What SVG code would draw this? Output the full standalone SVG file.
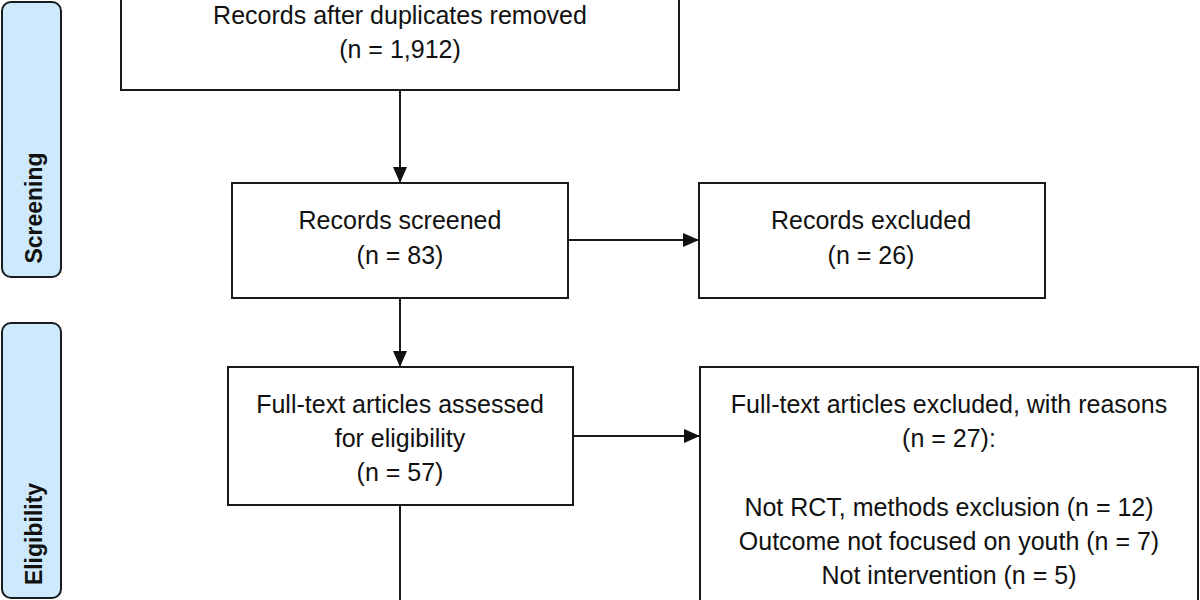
<svg xmlns="http://www.w3.org/2000/svg" width="1200" height="600" viewBox="0 0 1200 600">
<style>
.box{fill:#ffffff;stroke:#1a1a1a;stroke-width:2}
.lbl{fill:#cde9fb;stroke:#1a1a1a;stroke-width:2}
.t{font-family:"Liberation Sans",Arial,sans-serif;font-size:25px;fill:#111;text-anchor:middle}
.lt{font-family:"Liberation Sans",Arial,sans-serif;font-size:23px;font-weight:bold;fill:#111;text-anchor:middle}
.c{fill:none;stroke:#1a1a1a;stroke-width:2}
</style>
<defs>
<marker id="ah" markerUnits="userSpaceOnUse" markerWidth="16" markerHeight="14" refX="16" refY="7" orient="auto">
<path d="M0,0 L16,7 L0,14 Z" fill="#111"/>
</marker>
</defs>
<rect width="1200" height="600" fill="#ffffff"/>
<g id="label-screening">
<rect class="lbl" x="2" y="2" width="59" height="275" rx="9"/>
<text class="lt" transform="translate(42,208) rotate(-90)">Screening</text>
</g>
<g id="label-eligibility">
<rect class="lbl" x="2" y="323" width="59" height="275" rx="9"/>
<text class="lt" transform="translate(42,534) rotate(-90)">Eligibility</text>
</g>
<g id="connectors">
<line class="c" x1="400" y1="90" x2="400" y2="183" marker-end="url(#ah)"/>
<line class="c" x1="568" y1="240" x2="699" y2="240" marker-end="url(#ah)"/>
<line class="c" x1="400" y1="298" x2="400" y2="367" marker-end="url(#ah)"/>
<line class="c" x1="573" y1="436" x2="700" y2="436" marker-end="url(#ah)"/>
<line class="c" x1="400" y1="505" x2="400" y2="610"/>
</g>
<g id="node-duplicates">
<rect class="box" x="121" y="-40" width="558" height="130"/>
<text class="t" x="400" y="24">Records after duplicates removed</text>
<text class="t" x="400" y="58">(n = 1,912)</text>
</g>
<g id="node-screened">
<rect class="box" x="232" y="183" width="336" height="115"/>
<text class="t" x="400" y="229">Records screened</text>
<text class="t" x="400" y="264">(n = 83)</text>
</g>
<g id="node-excluded">
<rect class="box" x="699" y="183" width="346" height="115"/>
<text class="t" x="871" y="229">Records excluded</text>
<text class="t" x="871" y="264">(n = 26)</text>
</g>
<g id="node-fulltext">
<rect class="box" x="228" y="367" width="345" height="138"/>
<text class="t" x="400" y="413">Full-text articles assessed</text>
<text class="t" x="400" y="447">for eligibility</text>
<text class="t" x="400" y="481">(n = 57)</text>
</g>
<g id="node-fulltext-excluded">
<rect class="box" x="700" y="367" width="498" height="260"/>
<text class="t" x="949" y="413">Full-text articles excluded, with reasons</text>
<text class="t" x="949" y="447">(n = 27):</text>
<text class="t" x="949" y="516">Not RCT, methods exclusion (n = 12)</text>
<text class="t" x="949" y="550">Outcome not focused on youth (n = 7)</text>
<text class="t" x="949" y="584">Not intervention (n = 5)</text>
</g>
</svg>
